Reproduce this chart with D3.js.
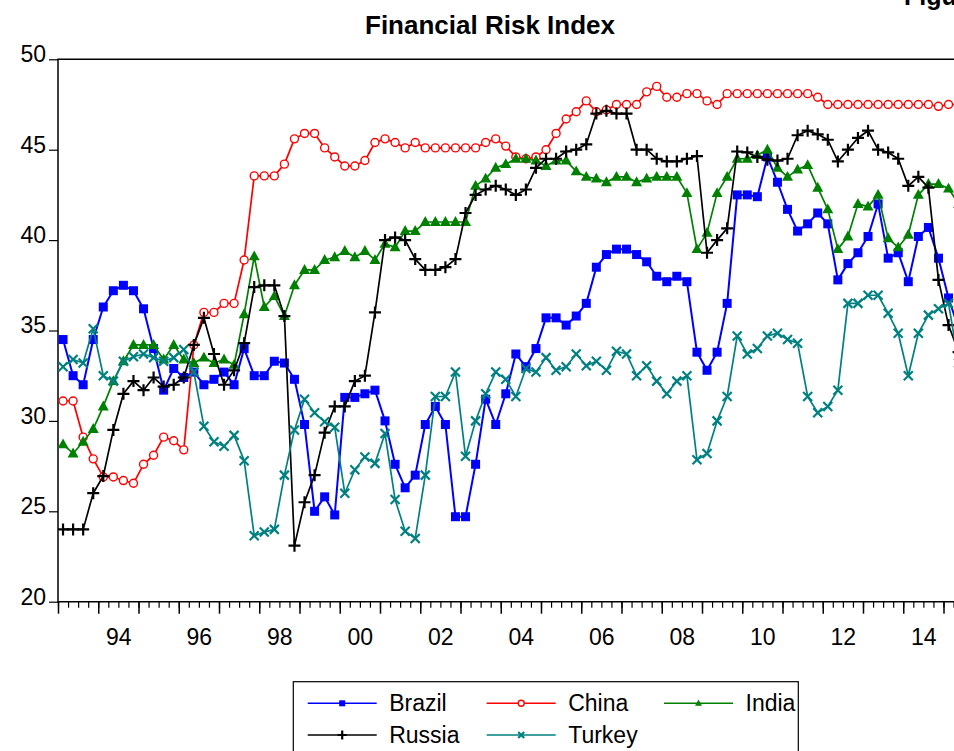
<!DOCTYPE html>
<html>
<head>
<meta charset="utf-8">
<script src="https://cdn.jsdelivr.net/npm/d3@7"></script>
<style>
  html, body { margin: 0; padding: 0; background: #fff; }
  svg { display: block; font-family: "Liberation Sans", Arial, sans-serif; }
</style>
</head>
<body>
<svg id="chart"></svg>
<script>
// Quarterly observations, 1993Q1 .. 2015Q2
const startYear = 1993;

const brazil = [34.5, 32.5, 32.0, 34.5, 36.3, 37.2, 37.5, 37.2, 36.2, 34.0, 31.7, 32.9, 32.4, 32.7, 32.0, 32.3,
  32.7, 32.0, 34.0, 32.5, 32.5, 33.3, 33.2, 32.3, 29.8, 25.0, 25.8, 24.8, 31.3, 31.3, 31.5, 31.7,
  30.0, 27.6, 26.3, 27.0, 29.8, 30.8, 29.8, 24.7, 24.7, 27.6, 31.2, 29.8, 31.5, 33.7, 33.0, 34.0,
  35.7, 35.7, 35.3, 35.8, 36.5, 38.5, 39.2, 39.5, 39.5, 39.2, 38.8, 38.0, 37.7, 38.0, 37.7, 33.8,
  32.8, 33.8, 36.5, 42.5, 42.5, 42.4, 44.6, 43.2, 41.7, 40.5, 40.9, 41.5, 40.9, 37.8, 38.7, 39.3,
  40.2, 42.0, 39.0, 39.3, 37.7, 40.2, 40.7, 39.0, 36.8, 35.1];

const china = [31.1, 31.1, 29.1, 27.9, 26.9, 26.9, 26.7, 26.55, 27.6, 28.1, 29.1, 28.9, 28.4, 34.2, 36.0, 36.0,
  36.5, 36.5, 38.9, 43.55, 43.55, 43.55, 44.2, 45.6, 45.9, 45.9, 45.1, 44.6, 44.1, 44.1, 44.4, 45.4,
  45.6, 45.4, 45.1, 45.4, 45.1, 45.1, 45.1, 45.1, 45.1, 45.1, 45.4, 45.6, 45.2, 44.6, 44.5, 44.6,
  45.0, 45.9, 46.7, 47.1, 47.7, 47.1, 47.2, 47.5, 47.5, 47.5, 48.2, 48.5, 47.9, 47.9, 48.1, 48.1,
  47.7, 47.5, 48.1, 48.1, 48.1, 48.1, 48.1, 48.1, 48.1, 48.1, 48.1, 47.9, 47.5, 47.5, 47.5, 47.5,
  47.5, 47.5, 47.5, 47.5, 47.5, 47.5, 47.5, 47.4, 47.5, 47.5];

const india = [28.7, 28.2, 28.85, 29.55, 30.8, 32.2, 33.3, 34.2, 34.2, 34.2, 33.4, 34.2, 33.4, 33.2, 33.5, 33.2,
  33.4, 33.1, 35.9, 39.1, 36.3, 36.9, 35.8, 37.5, 38.35, 38.35, 38.9, 39.05, 39.4, 39.05, 39.4, 38.9,
  39.8, 39.6, 40.5, 40.5, 41.0, 41.0, 41.0, 41.0, 41.0, 43.0, 43.4, 44.0, 44.2, 44.5, 44.5, 44.4,
  44.1, 44.4, 44.4, 43.8, 43.5, 43.4, 43.2, 43.5, 43.5, 43.2, 43.4, 43.5, 43.5, 43.5, 42.6, 39.5,
  40.4, 42.6, 43.5, 44.5, 44.5, 44.7, 45.0, 44.0, 43.5, 43.9, 44.15, 42.9, 41.7, 39.5, 40.2, 42.0,
  41.85, 42.5, 40.1, 39.6, 40.3, 42.5, 43.1, 43.1, 42.85, 42.0];

const russia = [24.0, 24.0, 24.0, 26.0, 26.95, 29.5, 31.5, 32.2, 31.7, 32.4, 31.9, 32.0, 32.4, 34.2, 35.7, 33.7,
  32.0, 32.8, 34.3, 37.4, 37.5, 37.5, 35.8, 23.1, 25.5, 27.0, 29.35, 30.8, 30.8, 32.2, 32.5, 36.0,
  40.0, 40.15, 40.0, 38.95, 38.35, 38.35, 38.5, 38.95, 41.5, 42.5, 42.8, 43.0, 42.8, 42.5, 42.8, 44.0,
  44.5, 44.5, 44.9, 45.0, 45.3, 47.0, 47.15, 47.0, 47.0, 45.0, 45.0, 44.5, 44.35, 44.35, 44.5, 44.65,
  39.3, 40.0, 40.65, 44.9, 44.85, 44.6, 44.45, 44.4, 44.5, 45.8, 46.05, 45.85, 45.55, 44.35, 45.0, 45.65,
  46.05, 45.0, 44.85, 44.5, 43.0, 43.5, 42.9, 37.8, 35.3, 33.8];

const turkey = [33.0, 33.4, 33.2, 35.1, 32.5, 32.2, 33.3, 33.55, 33.7, 33.5, 33.3, 33.5, 33.95, 32.7, 29.7, 28.85,
  28.6, 29.2, 27.8, 23.65, 23.85, 24.0, 27.0, 29.5, 31.2, 30.45, 29.95, 29.65, 26.0, 27.3, 28.0, 27.65,
  29.3, 25.65, 23.9, 23.5, 27.0, 31.35, 31.35, 32.7, 28.05, 30.0, 31.5, 32.7, 32.3, 31.35, 32.9, 32.7,
  33.5, 32.8, 33.0, 33.7, 33.05, 33.3, 32.8, 33.85, 33.7, 32.5, 33.05, 32.2, 31.5, 32.2, 32.5, 27.85,
  28.2, 30.0, 31.35, 34.7, 33.7, 34.0, 34.7, 34.85, 34.5, 34.3, 31.35, 30.45, 30.8, 31.7, 36.5, 36.5,
  36.95, 36.95, 35.95, 34.85, 32.5, 34.85, 35.85, 36.2, 36.5, 33.2];

const yTicks = [20, 25, 30, 35, 40, 45, 50];
const yearLabels = ["94", "96", "98", "00", "02", "04", "06", "08", "10", "12", "14"];
const labelYears = [1994, 1996, 1998, 2000, 2002, 2004, 2006, 2008, 2010, 2012, 2014];

const series = [
  { name: "Brazil", values: brazil, color: "#0000ff", marker: "square" },
  { name: "China", values: china, color: "#ff0000", marker: "circle" },
  { name: "India", values: india, color: "#008000", marker: "triangle" },
  { name: "Russia", values: russia, color: "#000000", marker: "plus" },
  { name: "Turkey", values: turkey, color: "#008080", marker: "cross" }
];

const width = 954, height = 751;
const margin = { top: 59.3, left: 58, bottom: 601.7 };

const svg = d3.select("#chart")
  .attr("width", width)
  .attr("height", height)
  .attr("viewBox", [0, 0, width, height]);

const x = d3.scaleLinear()
  .domain([startYear, 2016])
  .range([margin.left, margin.left + 23 * 40.25]);

const y = d3.scaleLinear()
  .domain([20, 50])
  .range([margin.bottom, margin.top]);

const xOf = i => x(startYear + (i + 0.5) / 4);

// clip for plot area
svg.append("clipPath").attr("id", "plot")
  .append("rect")
  .attr("x", margin.left).attr("y", margin.top - 8)
  .attr("width", 1000).attr("height", margin.bottom - margin.top + 16);

// Title
svg.append("text")
  .attr("x", 490).attr("y", 34)
  .attr("text-anchor", "middle")
  .attr("font-weight", "bold")
  .attr("font-size", 26)
  .text("Financial Risk Index");

// caption cut by the right edge, as in the source figure
svg.append("text")
  .attr("x", 904).attr("y", 5)
  .attr("font-weight", "bold")
  .attr("font-size", 25)
  .text("Figure 1");

// Frame (left, top, bottom)
svg.append("path")
  .attr("fill", "none")
  .attr("stroke", "#000")
  .attr("stroke-width", 1.5)
  .attr("d", `M${width + 10},${margin.top}H${margin.left}V${margin.bottom}H${width + 10}`);

// Y axis
svg.append("g")
  .attr("transform", `translate(${margin.left},0)`)
  .call(d3.axisLeft(y).tickValues(yTicks).tickSize(9).tickPadding(3).tickFormat(d3.format("d")))
  .call(g => g.select(".domain").remove())
  .call(g => g.selectAll("line").attr("stroke-width", 1.2))
  .call(g => g.selectAll("text")
    .attr("font-size", 23)
    .attr("font-family", "Liberation Sans, Arial, sans-serif")
    .attr("fill", "#000")
    .attr("dy", "0.1em"));

// X axis: quarter ticks, year ticks, labels
const quarterTicks = d3.range(startYear, 2016.01, 0.25);
const yearTicks = d3.range(startYear, 2017, 1);

svg.append("g")
  .attr("transform", `translate(0,${margin.bottom})`)
  .call(d3.axisBottom(x).tickValues(quarterTicks).tickSize(6).tickFormat(""))
  .call(g => g.select(".domain").remove())
  .call(g => g.selectAll("line").attr("stroke-width", 1.2));

svg.append("g")
  .attr("transform", `translate(0,${margin.bottom})`)
  .call(d3.axisBottom(x).tickValues(yearTicks).tickSize(12).tickFormat(""))
  .call(g => g.select(".domain").remove())
  .call(g => g.selectAll("line").attr("stroke-width", 1.5));

svg.append("g")
  .attr("transform", `translate(0,${margin.bottom})`)
  .call(d3.axisBottom(x).tickValues(labelYears.map(d => d + 0.5)).tickSize(0).tickPadding(27)
    .tickFormat((d, i) => yearLabels[i]))
  .call(g => g.select(".domain").remove())
  .call(g => g.selectAll("text")
    .attr("font-size", 23)
    .attr("font-family", "Liberation Sans, Arial, sans-serif")
    .attr("fill", "#000"));

// Marker drawing
function drawMarker(g, type, color, s) {
  if (type === "square") {
    g.append("rect").attr("x", -s / 2).attr("y", -s / 2).attr("width", s).attr("height", s).attr("fill", color);
  } else if (type === "circle") {
    g.append("circle").attr("r", s / 2).attr("fill", "#fff").attr("stroke", color).attr("stroke-width", 1.4);
  } else if (type === "triangle") {
    const h = s * 0.9;
    g.append("path").attr("d", `M0,${-h * 0.6}L${s / 2},${h * 0.4}L${-s / 2},${h * 0.4}Z`).attr("fill", color);
  } else if (type === "plus") {
    g.append("path").attr("d", `M${-s / 2},0H${s / 2}M0,${-s / 2}V${s / 2}`).attr("stroke", color).attr("stroke-width", 2.2);
  } else if (type === "cross") {
    const r = s / 2;
    g.append("path").attr("d", `M${-r},${-r}L${r},${r}M${-r},${r}L${r},${-r}`).attr("stroke", color).attr("stroke-width", 2.2);
  }
}

const markerSize = { square: 9, circle: 8, triangle: 11, plus: 12, cross: 9 };

const plot = svg.append("g").attr("clip-path", "url(#plot)");
const line = d3.line().x((d, i) => xOf(i)).y(d => y(d));

series.forEach(s => {
  const g = plot.append("g");
  g.append("path")
    .datum(s.values)
    .attr("fill", "none")
    .attr("stroke", s.color)
    .attr("stroke-width", s.marker === "square" ? 2 : 1.7)
    .attr("stroke-linejoin", "round")
    .attr("d", line);
  g.selectAll("g.mk")
    .data(s.values)
    .join("g")
    .attr("class", "mk")
    .attr("transform", (d, i) => `translate(${xOf(i)},${y(d)})`)
    .each(function () { drawMarker(d3.select(this), s.marker, s.color, markerSize[s.marker]); });
});

// Legend
const legend = svg.append("g");
legend.append("rect")
  .attr("x", 293.3).attr("y", 681.7)
  .attr("width", 505).attr("height", 90)
  .attr("fill", "#fff").attr("stroke", "#000").attr("stroke-width", 1.2);

const legendPos = [
  { x: 307.7, y: 703.3 }, { x: 486.7, y: 703.3 }, { x: 664, y: 703.3 },
  { x: 307.7, y: 735 }, { x: 486.7, y: 735 }
];
const legendMarker = { square: 6, circle: 6, triangle: 7, plus: 9, cross: 6 };

series.forEach((s, k) => {
  const p = legendPos[k];
  const g = legend.append("g").attr("transform", `translate(${p.x},${p.y})`);
  g.append("line").attr("x1", 0).attr("x2", 69).attr("stroke", s.color).attr("stroke-width", 1.6);
  drawMarker(g.append("g").attr("transform", "translate(34.5,0)"), s.marker, s.color, legendMarker[s.marker]);
  g.append("text")
    .attr("x", 81.5).attr("y", 8)
    .attr("font-size", 23)
    .text(s.name);
});
</script>
</body>
</html>
